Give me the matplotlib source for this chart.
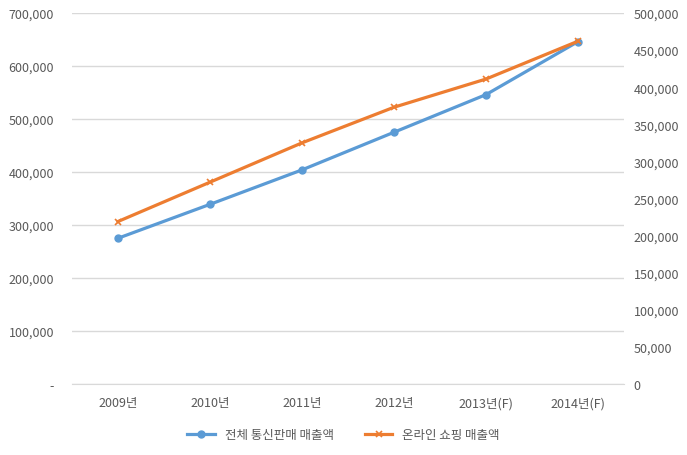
import matplotlib
matplotlib.use("Agg")
import matplotlib.pyplot as plt
from matplotlib.ticker import FuncFormatter

plt.rcParams["font.family"] = ["Noto Sans CJK KR", "DejaVu Sans"]

# ── data ─────────────────────────────────────────────────────────────────────
years = ["2009년", "2010년", "2011년", "2012년", "2013년(F)", "2014년(F)"]
total_sales = [275000, 339000, 404000, 475000, 546000, 646000]    # left axis
online_sales = [219000, 272000, 325000, 373000, 411000, 462000]   # right axis

blue = "#5b9bd5"
orange = "#ed7d31"
grid_c = "#d9d9d9"
text_c = "#595959"

fig = plt.figure(figsize=(6.87, 4.56), dpi=100, facecolor="white")
ax = fig.add_axes([72 / 687, 71 / 456, 552 / 687, 371 / 456])
ax2 = ax.twinx()

x = list(range(len(years)))
l1, = ax.plot(x, total_sales, color=blue, lw=2.3, marker="o", ms=5,
              label="전체 통신판매 매출액", zorder=3)
l2, = ax2.plot(x, online_sales, color=orange, lw=2.3, marker="x", ms=5,
               mew=1.2, label="온라인 쇼핑 매출액", zorder=3)

ax.set_xlim(-0.5, len(years) - 0.5)
ax.set_ylim(0, 700000)
ax2.set_ylim(0, 500000)
ax.set_yticks(range(0, 700001, 100000))
ax2.set_yticks(range(0, 500001, 50000))
ax.yaxis.set_major_formatter(FuncFormatter(lambda v, _: "-" if v == 0 else f"{v:,.0f}"))
ax2.yaxis.set_major_formatter(FuncFormatter(lambda v, _: f"{v:,.0f}"))
ax.set_xticks(x)
ax.set_xticklabels(years)

ax.grid(axis="y", color=grid_c, lw=1)
ax.set_axisbelow(True)
for a in (ax, ax2):
    for s in a.spines.values():
        s.set_visible(False)
    a.tick_params(length=0, colors=text_c, labelsize=9)
ax.spines["bottom"].set_visible(True)
ax.spines["bottom"].set_color(grid_c)
ax.tick_params(axis="x", pad=9)
ax.tick_params(axis="y", pad=13)
ax2.tick_params(axis="y", pad=7)

fig.legend(handles=[l1, l2], loc="center", bbox_to_anchor=(0.5, 20 / 456),
           ncol=2, frameon=False, fontsize=9, labelcolor=text_c,
           handlelength=2.2, columnspacing=2.5)

fig.savefig("out.png", dpi=100, facecolor="white")
